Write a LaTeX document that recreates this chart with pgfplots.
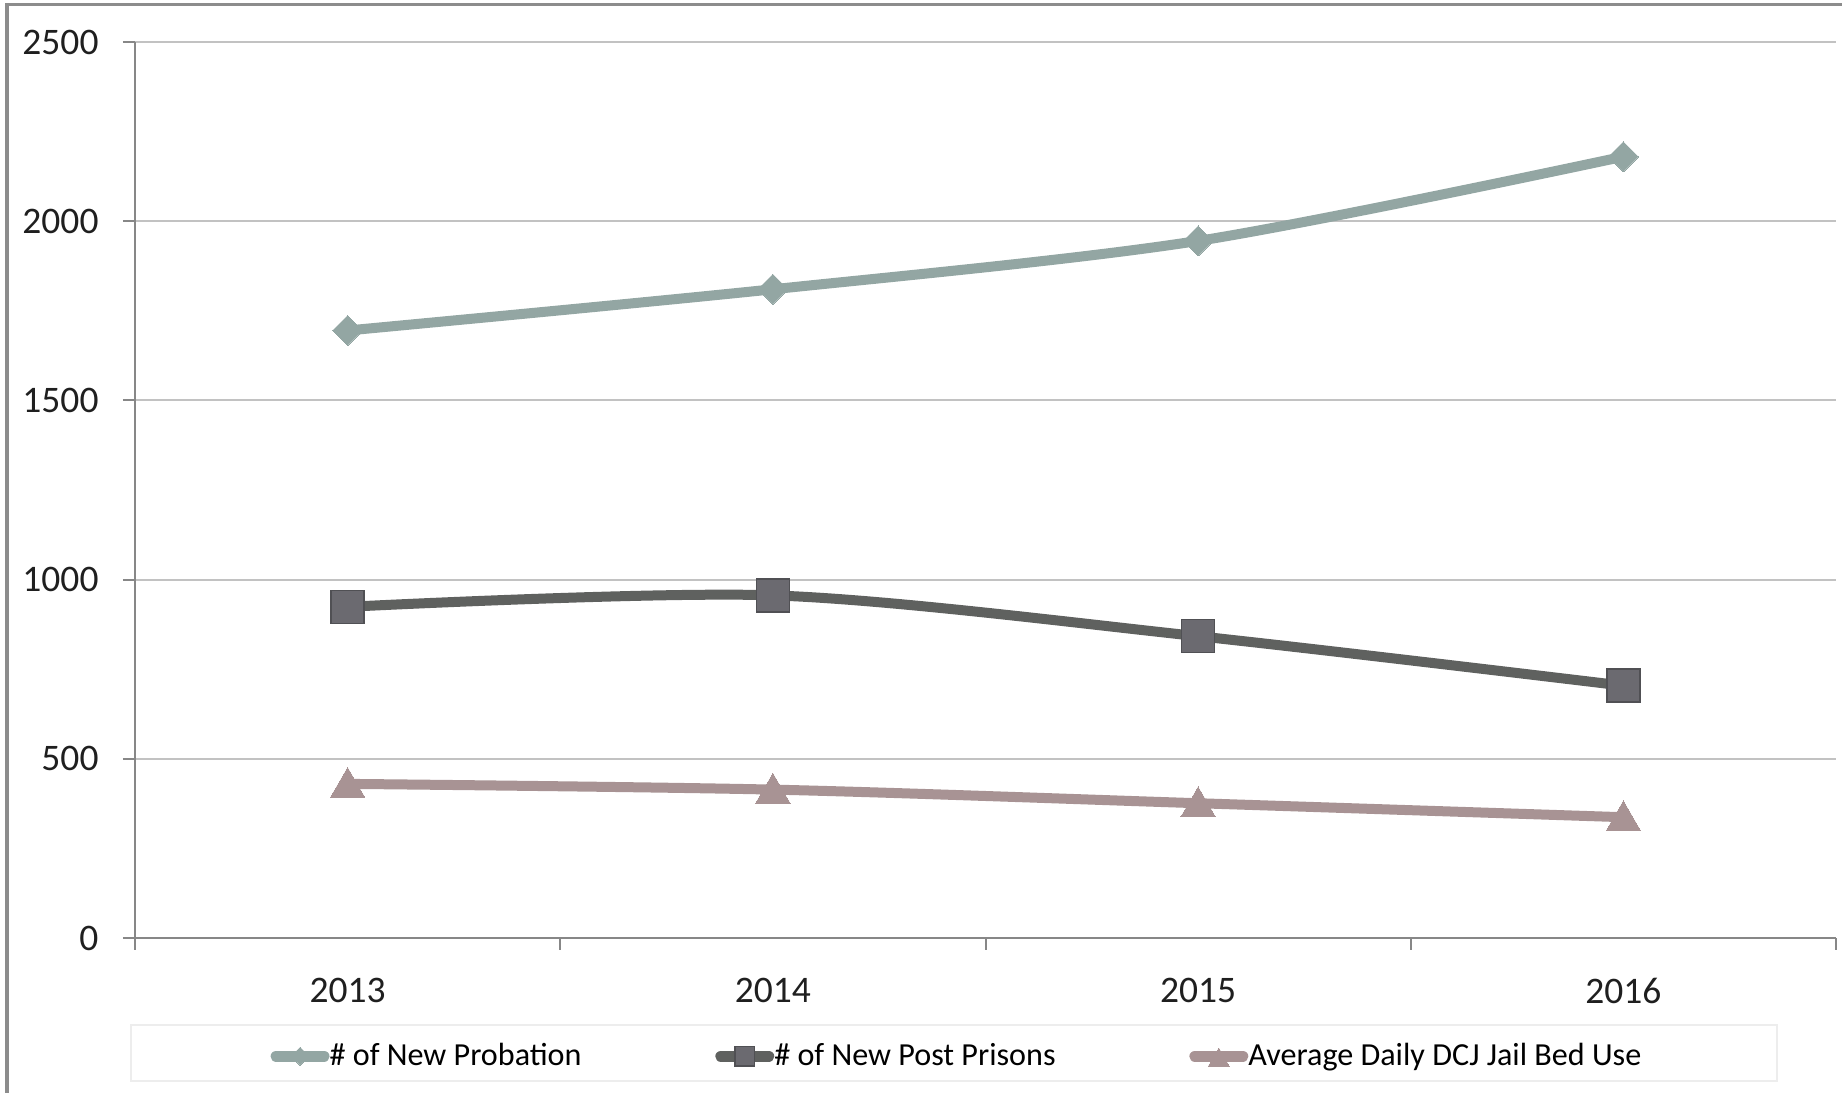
\documentclass[border=0pt]{standalone}
\usepackage{pgfplots}
\pgfplotsset{compat=1.18}
\usepackage{fontspec}
\setmainfont{Carlito}

\definecolor{probation}{HTML}{93A6A3}
\definecolor{postline}{HTML}{5F615F}
\definecolor{postmark}{HTML}{6B6A70}
\definecolor{jail}{HTML}{A89394}
\definecolor{axisgray}{HTML}{878787}
\definecolor{gridgray}{HTML}{C2C2C2}
\definecolor{framegray}{HTML}{8C8C8C}
\definecolor{legendframe}{HTML}{EDEDED}

\begin{document}
\begin{tikzpicture}[x=0.4pt,y=0.4pt]
% canvas and chart-area frame (left and top edges)
\useasboundingbox (0,0) rectangle (1842,1093);
\draw[framegray, line width=1.2pt] (7,0) -- (7,1088) -- (1842,1088);
% legend box
\draw[legendframe, line width=0.8pt] (131,12) rectangle (1777,68);

\begin{axis}[
  at={(54pt,62pt)}, anchor=south west,
  scale only axis, width=680.4pt, height=358.4pt,
  xmin=-0.5, xmax=3.5, ymin=0, ymax=2500,
  xtick={0,1,2,3}, xticklabels={2013,2014,2015,2016},
  minor xtick={-0.5,0.5,1.5,2.5,3.5},
  ytick={0,500,...,2500},
  axis x line*=bottom, axis y line*=left,
  tick align=outside,
  major tick length=4.8pt, minor tick length=4.8pt,
  major x tick style={draw=none},
  tick style={axisgray, line width=0.8pt},
  axis line style={axisgray, line width=1pt},
  ymajorgrids, grid style={gridgray, line width=0.8pt},
  ticklabel style={font=\fontsize{15}{18}\selectfont, text=black!88},
  yticklabel style={anchor=east, inner sep=0pt, xshift=-9.6pt},
  xticklabel style={anchor=north, inner sep=0pt, yshift=-11pt},
  /pgf/number format/assume math mode=true,
  /pgf/number format/1000 sep={},
  clip=false,
  legend columns=3,
  legend style={at={(axis description cs:0.0794,-0.132)}, anchor=west,
    draw=none, fill=none, inner sep=0pt,
    font=\fontsize{12.85}{15}\selectfont,
    nodes={inner sep=0pt},
    /tikz/every even column/.append style={column sep=53.5pt}},
  legend image code/.code={%
    \draw[line cap=round, mark repeat=2, mark phase=2, #1,
          line width=4.6pt, /tikz/every mark/.append style={scale=0.6}]
      plot coordinates {(0pt,0pt) (9.5pt,0pt) (19pt,0pt)};},
]

% # of New Probation
\addplot[probation, line width=4pt, smooth, tension=0.5,
  mark=square*, mark size=4.24pt,
  mark options={rotate=45, fill=probation, draw=probation, line width=0pt}]
  coordinates {(0,1695) (1,1810) (2,1945) (3,2180)};
\addlegendentry{\# of New Probation}

% # of New Post Prisons
\addplot[postline, line width=4pt, smooth, tension=0.5,
  mark=square*, mark size=6.6pt,
  mark options={fill=postmark, draw=black!25!postmark, line width=0.6pt}]
  coordinates {(0,924) (1,956) (2,842) (3,704)};
\addlegendentry{\# of New Post Prisons}

% Average Daily DCJ Jail Bed Use
\addplot[jail, line width=4pt, smooth, tension=0.5,
  mark=triangle*, mark size=8pt,
  mark options={fill=jail, draw=jail, line width=0pt, yshift=-1.5pt}]
  coordinates {(0,430) (1,414) (2,376) (3,337)};
\addlegendentry{Average Daily DCJ Jail Bed Use}

\end{axis}
\end{tikzpicture}
\end{document}
